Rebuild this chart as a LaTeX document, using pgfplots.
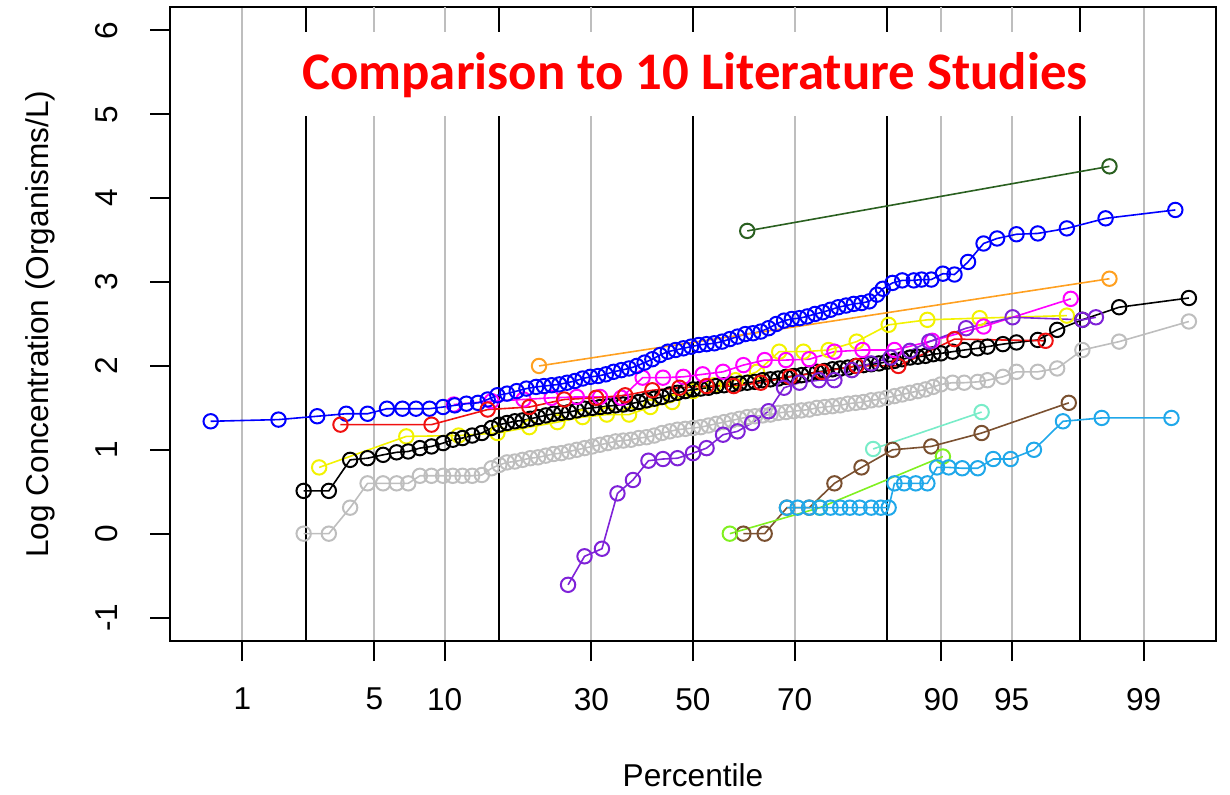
\documentclass[border=0pt]{standalone}
\usepackage{pgfplots}
\pgfplotsset{compat=1.18}
\usepackage{fontspec}
\setmainfont{Liberation Sans}
\newfontfamily\titlefont{Carlito}
\definecolor{rgray}{HTML}{BEBEBE}
\definecolor{cdkgreen}{HTML}{2A6020}
\definecolor{corange}{HTML}{FFA020}
\definecolor{cred}{HTML}{F01010}
\definecolor{cyellow}{HTML}{F2F200}
\definecolor{cmagenta}{HTML}{FF00FF}
\definecolor{cpurple}{HTML}{7F22D8}
\definecolor{caqua}{HTML}{78ECC8}
\definecolor{cbrown}{HTML}{7A5030}
\definecolor{clime}{HTML}{80F020}
\definecolor{csky}{HTML}{20A8EA}
\definecolor{cblue}{HTML}{0000FF}
\pgfplotsset{ser/.style={color=#1, line width=0.8pt, mark=o, mark size=3.6pt, mark options={solid, line width=1pt}}}
\begin{document}
\begin{tikzpicture}
\useasboundingbox (0,0) rectangle (615pt,397pt);
\begin{axis}[
  at={(85pt,76.5pt)}, anchor=south west,
  scale only axis, width=523pt, height=317pt,
  xmin=-2.7, xmax=2.7, ymin=-1.28, ymax=6.28,
  axis line style={line width=1pt},
  xtick={-2.3263,-1.6449,-1.2816,-0.5244,0,0.5244,1.2816,1.6449,2.3263},
  xticklabels={1,5,10,30,50,70,90,95,99},
  ytick={-1,0,1,2,3,4,5,6},
  tick align=outside, major tick length=10pt,
  tick style={black, line width=1pt},
  xtick pos=bottom, ytick pos=left,
  xmajorgrids, major grid style={rgray, line width=1pt},
  extra x ticks={-2,-1,0,1,2}, extra x tick labels={},
  extra x tick style={grid=major, major grid style={black, line width=1pt}, major tick length=0pt},
  font=\fontsize{15.8}{19}\selectfont,
  ticklabel style={font=\fontsize{15.8}{19}\selectfont},
  /pgf/number format/assume math mode=true,
  xticklabel style={yshift=-10pt},
  yticklabel style={rotate=90, anchor=south, yshift=12.5pt},
  xlabel={Percentile}, ylabel={Log Concentration (Organisms/L)},
  xlabel style={at={(axis description cs:0.5,-0.2114)}, anchor=center},
  ylabel style={at={(axis description cs:-0.1243,0.5)}, anchor=center},
]
% gray
\addplot[ser=rgray] coordinates {(-2.01,0.0)(-1.88,0.0)(-1.77,0.31)(-1.68,0.60)(-1.60,0.60)(-1.53,0.60)(-1.47,0.60)(-1.41,0.69)(-1.35,0.69)(-1.29,0.69)(-1.24,0.69)(-1.19,0.69)(-1.14,0.69)(-1.09,0.70)(-1.04,0.78)(-1.00,0.82)(-0.96,0.85)(-0.92,0.86)(-0.88,0.88)(-0.84,0.90)(-0.80,0.91)(-0.76,0.93)(-0.72,0.95)(-0.68,0.96)(-0.64,0.98)(-0.60,1.00)(-0.56,1.02)(-0.52,1.04)(-0.48,1.06)(-0.44,1.08)(-0.40,1.10)(-0.36,1.11)(-0.32,1.12)(-0.28,1.14)(-0.24,1.15)(-0.20,1.17)(-0.16,1.20)(-0.12,1.22)(-0.08,1.24)(-0.04,1.25)(0.00,1.26)(0.04,1.27)(0.08,1.29)(0.12,1.31)(0.16,1.33)(0.20,1.35)(0.24,1.37)(0.28,1.39)(0.32,1.40)(0.36,1.41)(0.40,1.42)(0.44,1.44)(0.48,1.45)(0.52,1.46)(0.56,1.47)(0.60,1.48)(0.64,1.50)(0.68,1.51)(0.72,1.52)(0.76,1.53)(0.80,1.55)(0.84,1.56)(0.88,1.57)(0.92,1.59)(0.96,1.60)(1.00,1.62)(1.04,1.64)(1.08,1.66)(1.12,1.68)(1.16,1.70)(1.20,1.72)(1.24,1.75)(1.28,1.78)(1.34,1.80)(1.40,1.80)(1.47,1.81)(1.52,1.83)(1.60,1.87)(1.67,1.93)(1.78,1.93)(1.88,1.97)(2.01,2.19)(2.20,2.29)(2.56,2.53)};
% yellow
\addplot[ser=cyellow] coordinates {(-1.93,0.79)(-1.48,1.16)(-1.21,1.17)(-1.01,1.20)(-0.845,1.27)(-0.70,1.33)(-0.57,1.39)(-0.445,1.42)(-0.33,1.42)(-0.22,1.51)(-0.107,1.57)(0,1.70)(0.107,1.77)(0.22,1.83)(0.33,1.93)(0.445,2.17)(0.57,2.17)(0.70,2.19)(0.845,2.29)(1.01,2.49)(1.21,2.55)(1.48,2.57)(1.93,2.60)};
% black
\addplot[ser=black] coordinates {(-2.01,0.51)(-1.88,0.51)(-1.77,0.88)(-1.68,0.90)(-1.60,0.94)(-1.53,0.97)(-1.47,0.98)(-1.41,1.02)(-1.35,1.04)(-1.29,1.08)(-1.24,1.12)(-1.19,1.14)(-1.14,1.17)(-1.09,1.20)(-1.04,1.26)(-1.00,1.30)(-0.96,1.32)(-0.92,1.34)(-0.88,1.35)(-0.84,1.37)(-0.80,1.39)(-0.76,1.41)(-0.72,1.43)(-0.68,1.44)(-0.64,1.45)(-0.60,1.47)(-0.56,1.49)(-0.52,1.50)(-0.48,1.51)(-0.44,1.52)(-0.40,1.53)(-0.36,1.54)(-0.32,1.55)(-0.28,1.57)(-0.24,1.59)(-0.20,1.61)(-0.16,1.63)(-0.12,1.66)(-0.08,1.68)(-0.04,1.70)(0.00,1.72)(0.04,1.73)(0.08,1.74)(0.12,1.76)(0.16,1.77)(0.20,1.78)(0.24,1.79)(0.28,1.80)(0.32,1.81)(0.36,1.83)(0.40,1.84)(0.44,1.85)(0.48,1.87)(0.52,1.88)(0.56,1.89)(0.60,1.91)(0.64,1.93)(0.68,1.94)(0.72,1.96)(0.76,1.97)(0.80,1.98)(0.84,2.00)(0.88,2.01)(0.92,2.02)(0.96,2.03)(1.00,2.05)(1.04,2.06)(1.08,2.08)(1.12,2.10)(1.16,2.11)(1.20,2.12)(1.24,2.14)(1.28,2.15)(1.34,2.17)(1.40,2.19)(1.47,2.21)(1.52,2.23)(1.60,2.26)(1.67,2.28)(1.78,2.31)(1.88,2.43)(2.01,2.55)(2.20,2.70)(2.56,2.81)};
% magenta
\addplot[ser=cmagenta] coordinates {(-1.235,1.54)(-1.04,1.58)(-0.875,1.60)(-0.73,1.62)(-0.60,1.63)(-0.48,1.63)(-0.37,1.62)(-0.26,1.86)(-0.155,1.86)(-0.05,1.87)(0.05,1.90)(0.155,1.93)(0.26,2.01)(0.37,2.07)(0.48,2.07)(0.60,2.08)(0.73,2.17)(0.875,2.19)(1.04,2.19)(1.235,2.30)(1.50,2.47)(1.95,2.80)};
% blue
\addplot[ser=cblue] coordinates {(-2.49,1.34)(-2.14,1.36)(-1.94,1.40)(-1.79,1.43)(-1.68,1.43)(-1.58,1.49)(-1.50,1.49)(-1.43,1.49)(-1.36,1.49)(-1.29,1.51)(-1.23,1.53)(-1.17,1.55)(-1.11,1.56)(-1.06,1.60)(-1.01,1.65)(-0.96,1.67)(-0.91,1.70)(-0.86,1.73)(-0.81,1.75)(-0.77,1.76)(-0.73,1.77)(-0.69,1.78)(-0.65,1.80)(-0.61,1.82)(-0.57,1.85)(-0.53,1.87)(-0.49,1.88)(-0.45,1.90)(-0.41,1.93)(-0.37,1.95)(-0.33,1.97)(-0.29,2.00)(-0.25,2.04)(-0.21,2.08)(-0.17,2.13)(-0.13,2.17)(-0.09,2.19)(-0.05,2.21)(-0.01,2.23)(0.03,2.25)(0.07,2.26)(0.11,2.27)(0.15,2.29)(0.19,2.32)(0.23,2.35)(0.27,2.38)(0.31,2.39)(0.35,2.41)(0.39,2.45)(0.43,2.50)(0.47,2.54)(0.51,2.56)(0.55,2.57)(0.59,2.59)(0.63,2.62)(0.67,2.64)(0.71,2.67)(0.75,2.70)(0.79,2.72)(0.83,2.74)(0.87,2.75)(0.91,2.77)(0.95,2.85)(0.98,2.92)(1.03,2.99)(1.08,3.02)(1.14,3.02)(1.18,3.03)(1.23,3.03)(1.29,3.10)(1.35,3.09)(1.42,3.24)(1.50,3.46)(1.57,3.52)(1.67,3.57)(1.78,3.58)(1.93,3.64)(2.13,3.76)(2.49,3.86)};
% dark green
\addplot[ser=cdkgreen] coordinates {(0.28,3.61)(2.15,4.38)};
% orange
\addplot[ser=corange] coordinates {(-0.795,2.00)(2.15,3.04)};
% red
\addplot[ser=cred] coordinates {(-1.82,1.30)(-1.35,1.30)(-1.06,1.48)(-0.845,1.51)(-0.665,1.60)(-0.50,1.62)(-0.35,1.65)(-0.21,1.71)(-0.07,1.74)(0.07,1.76)(0.21,1.76)(0.35,1.80)(0.50,1.87)(0.665,1.93)(0.845,2.00)(1.06,2.00)(1.35,2.32)(1.82,2.30)};
% purple
\addplot[ser=cpurple] coordinates {(-0.645,-0.61)(-0.56,-0.27)(-0.47,-0.18)(-0.39,0.48)(-0.31,0.64)(-0.23,0.87)(-0.155,0.89)(-0.08,0.90)(0.0,0.96)(0.07,1.02)(0.155,1.18)(0.23,1.22)(0.305,1.32)(0.39,1.46)(0.47,1.74)(0.55,1.80)(0.65,1.83)(0.73,1.83)(0.82,1.95)(0.92,2.03)(1.02,2.10)(1.12,2.18)(1.22,2.29)(1.41,2.45)(1.65,2.58)(2.01,2.55)(2.08,2.58)};
% aquamarine
\addplot[ser=caqua] coordinates {(0.93,1.01)(1.49,1.45)};
% brown
\addplot[ser=cbrown] coordinates {(0.26,0.0)(0.37,0.0)(0.485,0.31)(0.60,0.31)(0.73,0.60)(0.87,0.79)(1.03,1.00)(1.23,1.04)(1.49,1.20)(1.94,1.56)};
% chartreuse
\addplot[ser=clime] coordinates {(0.19,0.0)(0.655,0.31)(1.29,0.92)};
% deep sky blue
\addplot[ser=csky] coordinates {(0.485,0.31)(0.54,0.31)(0.60,0.31)(0.655,0.31)(0.71,0.31)(0.76,0.31)(0.81,0.31)(0.86,0.31)(0.92,0.31)(0.97,0.31)(1.01,0.31)(1.04,0.60)(1.09,0.60)(1.15,0.60)(1.21,0.60)(1.26,0.79)(1.32,0.79)(1.39,0.78)(1.47,0.78)(1.55,0.89)(1.64,0.89)(1.76,1.00)(1.91,1.34)(2.11,1.38)(2.47,1.38)};
% top ends of the vertical reference lines (above the title box)
\coordinate (k1) at (axis cs:-2,6.28);
\coordinate (k2) at (axis cs:-1,6.28);
\coordinate (k3) at (axis cs:0,6.28);
\coordinate (k4) at (axis cs:1,6.28);
\coordinate (k5) at (axis cs:2,6.28);
\coordinate (g1) at (axis cs:-1.6449,6.28);
\coordinate (g2) at (axis cs:-1.2816,6.28);
\coordinate (g3) at (axis cs:-0.5244,6.28);
\coordinate (g4) at (axis cs:0.5244,6.28);
\coordinate (g5) at (axis cs:1.2816,6.28);
\coordinate (g6) at (axis cs:1.6449,6.28);
\end{axis}
\fill[white] (145pt,339pt) rectangle (550pt,381pt);
\foreach \c in {g1,g2,g3,g4,g5,g6} \draw[rgray, line width=1pt] (\c) -- ++(0,-12.6pt);
\foreach \c in {k1,k2,k3,k4,k5} \draw[black, line width=1pt] (\c) -- ++(0,-12.6pt);
\node[inner sep=0pt] at (347.5pt,359.5pt) {\titlefont\bfseries\fontsize{26.4}{30}\selectfont\color{red}Comparison to 10 Literature Studies};
\end{tikzpicture}
\end{document}
